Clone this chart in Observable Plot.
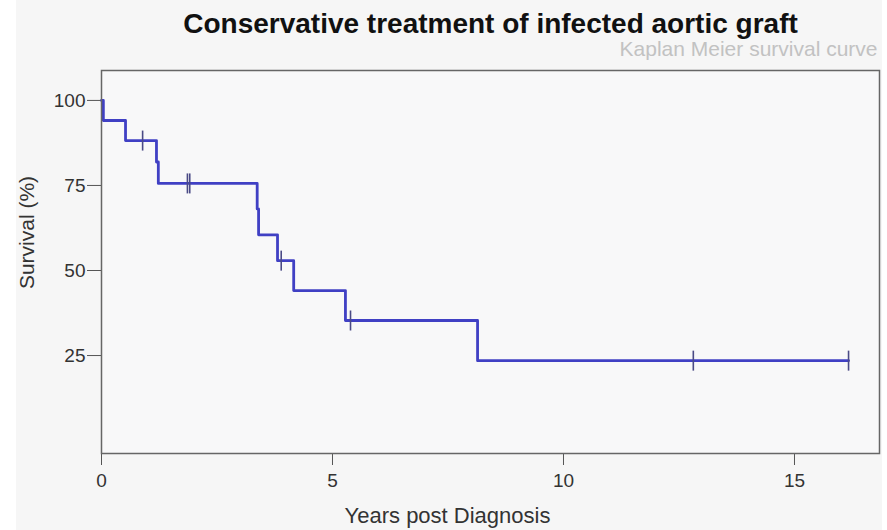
<!DOCTYPE html>
<html>
<head>
<meta charset="utf-8">
<script src="https://cdn.jsdelivr.net/npm/d3@7"></script>
<script src="https://cdn.jsdelivr.net/npm/@observablehq/plot@0.6"></script>
<style>
  html, body { margin: 0; padding: 0; background: #ffffff; }
  #chart svg { display: block; }
</style>
</head>
<body>
<div id="chart"></div>
<script>
// Kaplan–Meier step data (time in years, survival in %)
const stepTimes = [0, 0.04, 0.52, 1.19, 1.23, 3.37, 3.40, 3.81, 4.16, 5.28, 8.14, 16.17];
const stepSurvival = [100, 94.1, 88.2, 81.9, 75.6, 68.1, 60.5, 52.9, 44.1, 35.3, 23.5, 23.5];

// censored observations
const censorTimes = [0.89, 1.86, 1.91, 3.89, 5.39, 12.81, 16.17];
const censorSurvival = [88.2, 75.6, 75.6, 52.9, 35.3, 23.5, 23.5];

const xTicks = [0, 5, 10, 15];
const yTicks = [25, 50, 75, 100];

const titleText = "Conservative treatment of infected aortic graft";
const subtitleText = "Kaplan Meier survival curve";
const xLabel = "Years post Diagnosis";
const yLabel = "Survival (%)";

const steps = stepTimes.map((t, i) => ({t, s: stepSurvival[i]}));
const censors = censorTimes.map((t, i) => ({t, s: censorSurvival[i]}));

const vbar = {
  draw(context, size) {
    const h = Math.sqrt(size / Math.PI);
    context.moveTo(0, -h);
    context.lineTo(0, h);
  }
};

const chart = Plot.plot({
  width: 887,
  height: 530,
  marginLeft: 101,
  marginRight: 8,
  marginTop: 70,
  marginBottom: 77,
  style: {
    fontFamily: "'Liberation Sans', Arial, sans-serif",
    fontSize: "19px",
    color: "#333",
    background: "linear-gradient(to right, #ffffff 16px, #f6f6f6 16px, #f6f6f6 882px, #ffffff 882px)"
  },
  x: {domain: [0, 16.84]},
  y: {domain: [-3.8, 108.8]},
  marks: [
    Plot.rect([0], {x1: 0, x2: 16.84, y1: -3.8, y2: 108.8, fill: "#f8f8f9"}),
    Plot.axisX({ticks: xTicks, tickSize: 12, tickPadding: 8, label: null, stroke: "#555", fill: "#333", fontSize: 19}),
    Plot.axisY({ticks: yTicks, tickSize: 14, tickPadding: 2, label: null, stroke: "#555", fill: "#333", fontSize: 19}),
    Plot.line(steps, {x: "t", y: "s", curve: "step-after", stroke: "#4040c4", strokeWidth: 2.8}),
    Plot.dot(censors, {x: "t", y: "s", symbol: vbar, r: 10, stroke: "#4a4a86", strokeWidth: 1.6, fill: "none"}),
    Plot.frame({stroke: "#666", strokeWidth: 1.5}),
    Plot.text([titleText], {text: d => d, frameAnchor: "top", lineAnchor: "middle", dx: 0, dy: -46, fontSize: 28, fontWeight: "bold", fill: "#111"}),
    Plot.text([subtitleText], {text: d => d, frameAnchor: "top-right", textAnchor: "end", lineAnchor: "middle", dx: -2, dy: -21, fontSize: 21, fill: "#c2c2c2"}),
    Plot.text([xLabel], {text: d => d, frameAnchor: "bottom-left", textAnchor: "middle", lineAnchor: "middle", dx: 346, dy: 62, fontSize: 22, fill: "#333"}),
    Plot.text([yLabel], {text: d => d, frameAnchor: "top-left", textAnchor: "middle", lineAnchor: "middle", dx: -74, dy: 162, rotate: -90, fontSize: 21, fill: "#333"})
  ]
});

document.getElementById("chart").appendChild(chart);
</script>
</body>
</html>
